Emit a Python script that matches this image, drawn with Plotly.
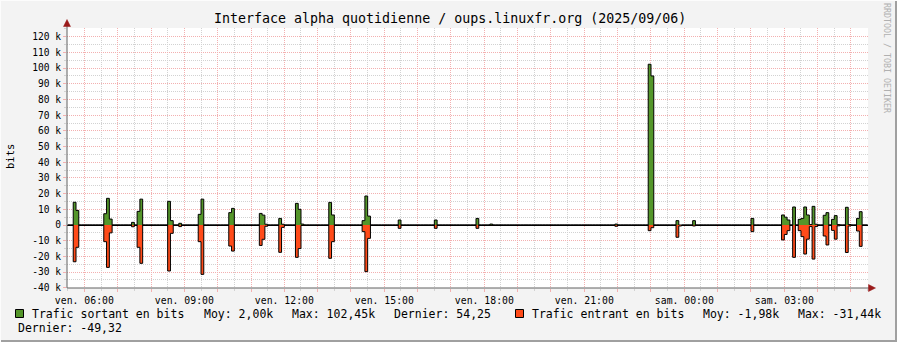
import plotly.graph_objects as go

# ---------------- data (kbits/s) ----------------
# step start times (5-minute steps) where traffic was recorded; all other steps are 0
step_times = [
    "ven. 05:40", "ven. 05:45", "ven. 06:35", "ven. 06:40", "ven. 06:45",
    "ven. 07:25", "ven. 07:35", "ven. 07:40", "ven. 08:30", "ven. 08:35",
    "ven. 08:50", "ven. 09:25", "ven. 09:30", "ven. 10:20", "ven. 10:25",
    "ven. 11:15", "ven. 11:20", "ven. 11:25", "ven. 11:50", "ven. 11:55",
    "ven. 12:20", "ven. 12:25", "ven. 12:30", "ven. 13:20", "ven. 13:25",
    "ven. 14:20", "ven. 14:25", "ven. 14:30", "ven. 15:25", "ven. 16:30",
    "ven. 17:45", "ven. 18:10", "ven. 21:55", "ven. 22:55", "ven. 23:00",
    "ven. 23:45", "ven. 23:50", "sam. 00:15", "sam. 02:00", "sam. 02:55",
    "sam. 03:00", "sam. 03:05", "sam. 03:15", "sam. 03:25", "sam. 03:30",
    "sam. 03:35", "sam. 03:40", "sam. 03:45", "sam. 03:50", "sam. 03:55",
    "sam. 04:10", "sam. 04:15", "sam. 04:25", "sam. 04:30", "sam. 04:35",
    "sam. 04:50", "sam. 04:55", "sam. 05:10", "sam. 05:15", "sam. 05:20",
]
out_k = [
    14.5, 9.3, 7.2, 17.0, 3.8,
    1.7, 8.7, 16.5, 15.1, 2.8,
    1.1, 6.8, 16.5, 7.9, 10.6,
    7.4, 6.3, 0.5, 4.2, 0.5,
    13.8, 10.0, 0.6, 14.4, 6.4,
    2.8, 18.5, 5.7, 3.2, 3.2,
    4.2, 0.6, 0.6, 102.45, 95.0,
    2.8, 0.0, 2.8, 4.2, 6.4,
    5.0, 3.2, 11.5, 3.6, 4.2,
    11.5, 6.4, 0.3, 11.9, 0.5,
    6.2, 7.9, 3.6, 6.0, 0.3,
    11.3, 0.3, 4.2, 8.5, 0.054,
]
in_k = [
    -23.4, -14.2, -10.6, -27.0, -5.0,
    -1.1, -14.2, -24.4, -29.3, -5.3,
    -1.0, -10.6, -31.44, -13.4, -16.6,
    -13.0, -9.1, -0.8, -17.4, -1.5,
    -20.6, -15.0, -0.3, -21.2, -10.6,
    -4.2, -29.7, -8.5, -2.1, -2.1,
    -2.1, -0.2, -0.8, -3.6, -1.7,
    -7.8, -0.6, -0.6, -4.2, -9.5,
    -6.0, -3.6, -20.6, -3.6, -7.4,
    -18.5, -9.0, -1.0, -21.7, -1.0,
    -7.0, -12.7, -3.4, -9.0, -0.5,
    -17.5, -0.6, -3.8, -13.6, -0.049,
]

y_ticks_k = [-40, -30, -20, -10, 0, 10, 20, 30, 40, 50, 60, 70, 80, 90, 100, 110, 120]
x_tick_labels = ["ven. 06:00", "ven. 09:00", "ven. 12:00", "ven. 15:00",
                 "ven. 18:00", "ven. 21:00", "sam. 00:00", "sam. 03:00"]

title = "Interface alpha quotidienne / oups.linuxfr.org (2025/09/06)"
legend_out = ["Trafic sortant en bits", "Moy: 2,00k", "Max: 102,45k", "Dernier: 54,25"]
legend_in = ["Trafic entrant en bits", "Moy: -1,98k", "Max: -31,44k", "Dernier: -49,32"]


def to_hours(label):
    day, hm = label.split(" ")
    h, m = hm.split(":")
    return (24 if day == "sam." else 0) + int(h) + int(m) / 60.0


# build the full 5-minute series (zeros where nothing was recorded)
start_h, end_h = 5.5, 29.5
n_steps = int(round((end_h - start_h) * 12))
xs = [start_h + i / 12.0 for i in range(n_steps + 1)]
recorded_out = {round(to_hours(t) * 12): v for t, v in zip(step_times, out_k)}
recorded_in = {round(to_hours(t) * 12): v for t, v in zip(step_times, in_k)}
ys_out = [recorded_out.get(round(x * 12), 0.0) * 1000 for x in xs]
ys_in = [recorded_in.get(round(x * 12), 0.0) * 1000 for x in xs]

GREEN = "#54962A"
ORANGE = "#FF4B19"
FONT = "DejaVu Sans Mono"

fig = go.Figure()
fig.add_trace(go.Scatter(x=xs, y=ys_out, mode="lines", line=dict(shape="hv", color="black", width=1),
                         fill="tozeroy", fillcolor=GREEN, showlegend=False, hoverinfo="skip"))
fig.add_trace(go.Scatter(x=xs, y=ys_in, mode="lines", line=dict(shape="hv", color="black", width=1),
                         fill="tozeroy", fillcolor=ORANGE, showlegend=False, hoverinfo="skip"))

# plot area in pixels
W, H = 897, 342
L, R, T, B = 67, 868, 28, 288
X0_H, X1_H = 6 + (L - 84.33) / 33.333, 6 + (R - 84.33) / 33.333
KPX = 1.5694
Y0 = -40000 - (B - 287.8) / KPX * 1000
Y1 = Y0 + (B - T) / KPX * 1000


def px(x):
    return (x - L) / (R - L)


def py(y):
    return (B - y) / (B - T)


RED_GRID = "#F3B0B0"
GRAY_GRID = "#D2D2D2"

fig.update_layout(
    width=W, height=H,
    margin=dict(l=L, r=W - R, t=T, b=H - B),
    paper_bgcolor="#f3f3f3", plot_bgcolor="white",
    font=dict(family=FONT, size=10, color="black"),
    showlegend=False,
)

hour_vals = list(range(6, 30))
hour_text = []
for h in hour_vals:
    lab = ""
    for t in x_tick_labels:
        if abs(to_hours(t) - h) < 1e-6:
            lab = t
    hour_text.append(lab)

fig.update_xaxes(
    range=[X0_H, X1_H], tickmode="array", tickvals=hour_vals, ticktext=hour_text,
    showgrid=True, gridcolor=RED_GRID, griddash="1px,1px", gridwidth=1,
    ticks="outside", ticklen=3, tickcolor=RED_GRID, zeroline=False, showline=False,
    tickfont=dict(family=FONT, size=9.8, color="black"),
    minor=dict(tickmode="linear", tick0=0, dtick=0.5, showgrid=True, gridcolor=GRAY_GRID,
               griddash="1px,1px", ticks="outside", ticklen=2, tickcolor=GRAY_GRID),
    fixedrange=True,
)
fig.update_yaxes(
    range=[Y0, Y1], tickmode="array", tickvals=[v * 1000 for v in y_ticks_k],
    ticktext=[("0" if v == 0 else f"{v} k") for v in y_ticks_k],
    showgrid=True, gridcolor=RED_GRID, griddash="1px,1px", gridwidth=1,
    ticks="outside", ticklen=3, tickcolor=RED_GRID,
    zeroline=True, zerolinecolor="black", zerolinewidth=1, showline=False,
    tickfont=dict(family=FONT, size=9.6, color="black"),
    minor=dict(tickmode="linear", tick0=0, dtick=5000, showgrid=True, gridcolor=GRAY_GRID,
               griddash="1px,1px", ticks="outside", ticklen=2, tickcolor=GRAY_GRID),
    fixedrange=True,
)

shapes = []
# axes lines with arrows
shapes.append(dict(type="line", xref="paper", yref="paper", x0=px(67), x1=px(67), y0=py(288), y1=py(24),
                   line=dict(color="#606060", width=1)))
shapes.append(dict(type="line", xref="paper", yref="paper", x0=px(67), x1=px(870), y0=py(288), y1=py(288),
                   line=dict(color="#606060", width=1)))
shapes.append(dict(type="path", xref="paper", yref="paper",
                   path=f"M {px(63.5)},{py(26.5)} L {px(70.5)},{py(26.5)} L {px(67)},{py(19.5)} Z",
                   fillcolor="#9A1A1A", line=dict(color="#9A1A1A", width=0.5)))
shapes.append(dict(type="path", xref="paper", yref="paper",
                   path=f"M {px(868.5)},{py(284.5)} L {px(868.5)},{py(291.5)} L {px(875.5)},{py(288)} Z",
                   fillcolor="#9A1A1A", line=dict(color="#9A1A1A", width=0.5)))
# legend swatches
for x0, col in [(15.5, GREEN), (515.5, ORANGE)]:
    shapes.append(dict(type="rect", xref="paper", yref="paper", x0=px(x0), x1=px(x0 + 8),
                       y0=py(317.5), y1=py(309.5), fillcolor=col, line=dict(color="black", width=1)))
# frame
shapes.append(dict(type="line", xref="paper", yref="paper", x0=px(0), x1=px(W), y0=py(341), y1=py(341),
                   line=dict(color="#a0a0a0", width=2)))
shapes.append(dict(type="line", xref="paper", yref="paper", x0=px(896), x1=px(896), y0=py(0), y1=py(H),
                   line=dict(color="#a0a0a0", width=2)))
shapes.append(dict(type="line", xref="paper", yref="paper", x0=px(0), x1=px(W), y0=py(0.5), y1=py(0.5),
                   line=dict(color="#fcfcfc", width=1)))
shapes.append(dict(type="line", xref="paper", yref="paper", x0=px(0.5), x1=px(0.5), y0=py(0), y1=py(H),
                   line=dict(color="#fcfcfc", width=1)))
fig.update_layout(shapes=shapes)

ann = []


def text_at(x, y, s, size=11.5, color="black", anchor="left", angle=0):
    ann.append(dict(xref="paper", yref="paper", x=px(x), y=py(y), text=s, showarrow=False,
                    xanchor=anchor, yanchor="middle", textangle=angle,
                    font=dict(family=FONT, size=size, color=color)))


text_at(450, 19, title, size=13.3, anchor="center")
text_at(10, 157, "bits", size=10.5, anchor="center", angle=-90)
text_at(30, 313.5, legend_out[0])
text_at(201.5, 313.5, legend_out[1])
text_at(289.5, 313.5, legend_out[2])
text_at(392, 313.5, legend_out[3])
text_at(529.5, 313.5, legend_in[0])
text_at(701, 313.5, legend_in[1])
text_at(796, 313.5, legend_in[2])
text_at(15.5, 328, legend_in[3])
text_at(887, 58, "RRDTOOL / TOBI OETIKER", size=8.3, color="#b0b0b0", anchor="center", angle=90)
fig.update_layout(annotations=ann)

fig.write_html("out.html")
